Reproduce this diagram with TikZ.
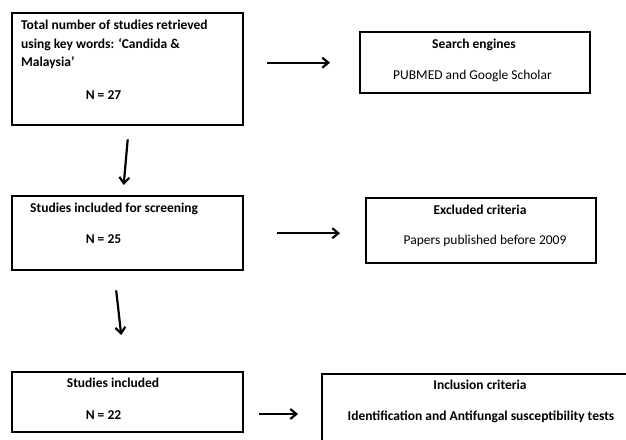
\documentclass[tikz,border=0pt]{standalone}
\usepackage{fontspec}
\setmainfont{Carlito}
\usetikzlibrary{arrows.meta}
\begin{document}
\begin{tikzpicture}[x=1pt,y=-1pt,
  box/.style={draw=black,line width=2.4pt,inner sep=0pt,anchor=north west},
  bt/.style={font=\fontsize{13.5}{16}\selectfont\bfseries,inner sep=0pt},
  rt/.style={font=\fontsize{13.5}{16}\selectfont,inner sep=0pt},
  arr/.style={line width=2.2pt,-{Straight Barb[length=6pt,width=10pt,line width=2.2pt]}}]
\useasboundingbox (0,0) rectangle (626,439);
\clip (0,0) rectangle (626,439);
% boxes
\node[box,minimum width=231pt,minimum height=112pt] (b1) at (11,12) {};
\node[box,minimum width=230pt,minimum height=61pt] (se) at (359,31) {};
\node[box,minimum width=231pt,minimum height=74pt] (b2) at (11,195) {};
\node[box,minimum width=230pt,minimum height=65pt] (ex) at (365,197) {};
\node[box,minimum width=231pt,minimum height=60pt] (b3) at (11,371) {};
\node[box,minimum width=330pt,minimum height=100pt] (inc) at (321,373) {};
% texts
\node[bt,anchor=mid west] (t1a) at (21,27) {Total number of studies retrieved};
\node[bt,anchor=mid west] (t1b) at (21,46) {using key words: ‘Candida \&};
\node[bt,anchor=mid west] (t1c) at (21,64) {Malaysia’};
\node[bt,anchor=mid] (t1d) at (103.5,97) {N = 27};
\node[bt,anchor=mid] (tse1) at (474,46) {Search engines};
\node[rt,anchor=mid] (tse2) at (472.5,77) {PUBMED and Google Scholar};
\node[bt,anchor=mid west] (t2a) at (30,210) {Studies included for screening};
\node[bt,anchor=mid] (t2b) at (103.5,241) {N = 25};
\node[bt,anchor=mid] (tex1) at (480,212) {Excluded criteria};
\node[rt,anchor=mid] (tex2) at (485,242) {Papers published before 2009};
\node[bt,anchor=mid] (t3a) at (113,385) {Studies included};
\node[bt,anchor=mid] (t3b) at (103.5,417) {N = 22};
\node[bt,anchor=mid] (tin1) at (480,387) {Inclusion criteria};
\node[bt,anchor=mid] (tin2) at (481,418) {Identification and Antifungal susceptibility tests};
% connector end points
\coordinate (a1s) at ([xshift=23pt]b1.east |- se.west);
\coordinate (a1e) at ([xshift=-29pt]se.west);
\coordinate (a2s) at ([xshift=33pt]b2.east);
\coordinate (a2e) at ([xshift=-25pt]ex.west |- b2.east);
\coordinate (a3s) at ([xshift=15pt]b3.east |- 0,414);
\coordinate (a3e) at ([xshift=-23pt]inc.west |- 0,414);
\coordinate (d1s) at ([yshift=-13pt]b1.south);
\coordinate (d1e) at ([xshift=-4pt,yshift=10pt]b2.north);
\coordinate (d2s) at ([xshift=-11.5pt,yshift=-19pt]b2.south);
\coordinate (d2e) at ([xshift=-6.5pt,yshift=36pt]b3.north);
\draw[arr] (a1s) -- (a1e);
\draw[arr] (a2s) -- (a2e);
\draw[arr] (a3s) -- (a3e);
\draw[arr] (d1s) -- (d1e);
\draw[arr] (d2s) -- (d2e);
\end{tikzpicture}
\end{document}
